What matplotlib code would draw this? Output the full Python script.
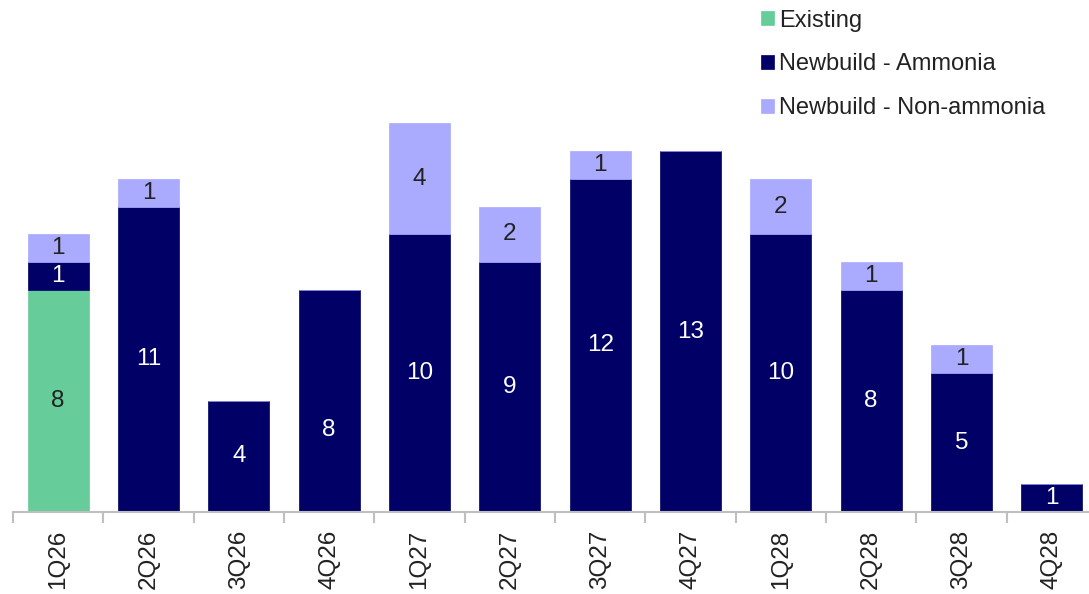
import numpy as np
import matplotlib.pyplot as plt

plt.rcParams['font.family'] = ['Liberation Sans', 'DejaVu Sans']

# quarterly vessel deliveries
quarters = ['1Q26', '2Q26', '3Q26', '4Q26', '1Q27', '2Q27',
            '3Q27', '4Q27', '1Q28', '2Q28', '3Q28', '4Q28']
existing = [8, 0, 0, 0, 0, 0, 0, 0, 0, 0, 0, 0]
ammonia = [1, 11, 4, 8, 10, 9, 12, 13, 10, 8, 5, 1]
non_ammonia = [1, 1, 0, 0, 4, 2, 1, 0, 2, 1, 1, 0]

series = [
    ('Existing', existing, '#66CC99', '#222222'),
    ('Newbuild - Ammonia', ammonia, '#000066', 'white'),
    ('Newbuild - Non-ammonia', non_ammonia, '#AAAAFF', '#222222'),
]

# label nudges (in data units) for a few segments
label_shift = {(1, 3): -1.05}

fig = plt.figure(figsize=(10.89, 5.94), dpi=100)
ax = fig.add_axes([13 / 1089, 82 / 594, 1084 / 1089, 512 / 594])

x = np.arange(len(quarters))
bottom = np.zeros(len(quarters))
for s, (name, vals, col, tcol) in enumerate(series):
    vals = np.array(vals, dtype=float)
    ax.bar(x, vals, width=0.675, bottom=bottom, color=col, label=name,
           edgecolor=col, linewidth=0.5)
    for i, v in enumerate(vals):
        if v > 0:
            yc = bottom[i] + v / 2 + label_shift.get((s, i), 0)
            ax.text(x[i], yc, f'{int(v)}', ha='center', va='center',
                    fontsize=17.5, color=tcol)
    bottom += vals

ax.set_xlim(-0.5, len(quarters) - 0.5)
ax.set_ylim(0, 512 / 27.76)

for sp in ['top', 'right', 'left']:
    ax.spines[sp].set_visible(False)
ax.spines['bottom'].set_color('#BFBFBF')
ax.spines['bottom'].set_linewidth(1.5)
ax.set_yticks([])

# category labels centred, tick marks between categories
ax.set_xticks(x)
ax.set_xticklabels(quarters, rotation=90, fontsize=17.5, color='#222222')
ax.tick_params(axis='x', which='major', length=0, pad=13)
ax.set_xticks(np.arange(len(quarters)) - 0.5, minor=True)
ax.tick_params(axis='x', which='minor', length=8, width=1.5, color='#BFBFBF')

leg = ax.legend(loc='upper left', bbox_to_anchor=(757 / 1089, 1 - 6 / 594),
                bbox_transform=fig.transFigure, frameon=False, fontsize=17,
                handlelength=0.55, handleheight=0.55, handletextpad=0.25,
                labelspacing=0.92, borderpad=0.15, borderaxespad=0)
for t in leg.get_texts():
    t.set_color('#222222')

fig.savefig('out.png', dpi=100)
